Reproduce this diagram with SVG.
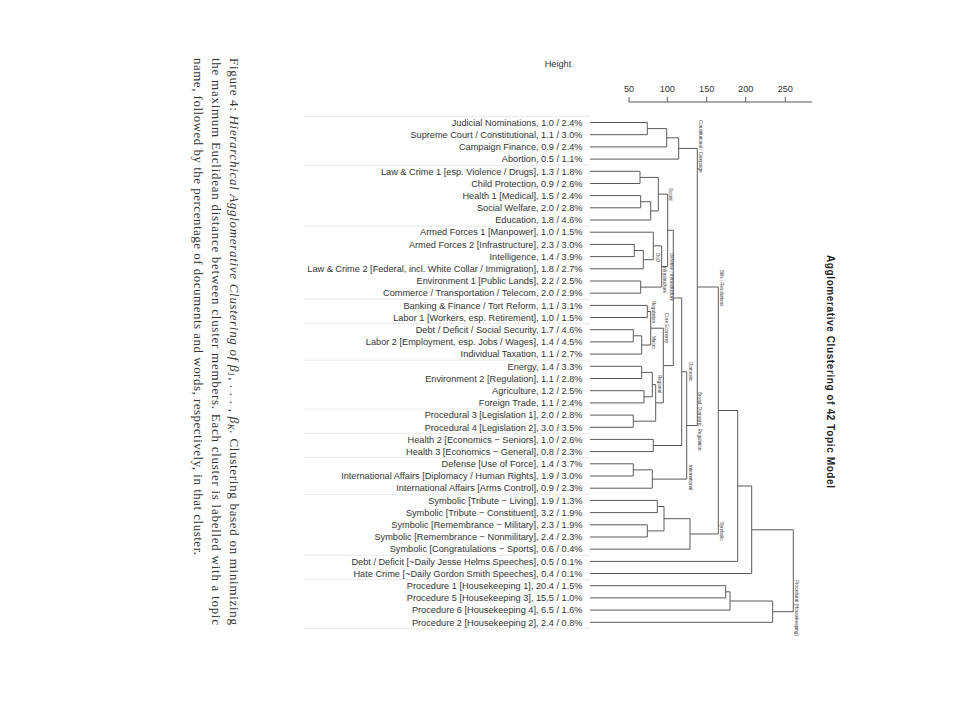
<svg xmlns="http://www.w3.org/2000/svg" width="960" height="720" viewBox="0 0 960 720">
<style>
.lbl{font-family:"Liberation Sans",Arial,sans-serif;font-size:9.2px;fill:#333;text-anchor:end}
.ax{font-family:"Liberation Sans",Arial,sans-serif;font-size:9.2px;fill:#333;text-anchor:middle}
.cl{font-family:"Liberation Sans",Arial,sans-serif;font-size:4.6px;fill:#333}
.sep{stroke:#e4e4e4;stroke-width:0.8;fill:none}
.edge{stroke:#5a5a5a;stroke-width:1;fill:none}
.cap{font-family:"Liberation Serif","Times New Roman",serif;font-size:13px;fill:#333}
</style>
<rect width="960" height="720" fill="#fff"/>

<g id="caption" class="cap">
<text transform="translate(229.5,58) rotate(90)" textLength="567" lengthAdjust="spacing">Figure 4: <tspan font-style="italic">Hierarchical Agglomerative Clustering of β<tspan font-size="9" dy="2">1</tspan><tspan dy="-2">, . . . , β</tspan><tspan font-size="9" dy="2">K</tspan><tspan dy="-2">.</tspan></tspan> Clustering based on minimizing</text>
<text transform="translate(212,58) rotate(90)" textLength="567" lengthAdjust="spacing">the maximum Euclidean distance between cluster members. Each cluster is labelled with a topic</text>
<text transform="translate(194,58) rotate(90)" textLength="497" lengthAdjust="spacing">name, followed by the percentage of documents and words, respectively, in that cluster.</text>
</g>

<g id="title">
<text transform="translate(827,255) rotate(90)" font-family="Liberation Sans,Arial,sans-serif" font-weight="bold" font-size="10" fill="#222" textLength="233" lengthAdjust="spacing">Agglomerative Clustering of 42 Topic Model</text>
</g>

<g id="axis">
<text class="ax" x="558" y="67">Height</text>
<path class="edge" d="M629 102H812M629 97V102M667.3 97V102M706.7 97V102M745.7 97V102M785.3 97V102"/>
<text class="ax" x="629" y="91.5">50</text>
<text class="ax" x="667.3" y="91.5">100</text>
<text class="ax" x="706.7" y="91.5">150</text>
<text class="ax" x="745.7" y="91.5">200</text>
<text class="ax" x="785.3" y="91.5">250</text>
</g>

<g id="separators">
<path class="sep" d="M304 116.4H590M304 165.2H590M304 226.1H590M304 299.3H590M304 323.6H590M304 360.2H590M304 409H590M304 433.4H590M304 457.7H590M304 494.3H590M304 555.3H590M304 579.6H590M304 628.4H590"/>
</g>

<g id="leaves">
<g id="n0"><text class="lbl" x="582.5" y="125.7">Judicial Nominations, 1.0 / 2.4%</text></g>
<g id="n1"><text class="lbl" x="582.5" y="137.9">Supreme Court / Constitutional, 1.1 / 3.0%</text></g>
<g id="n2"><text class="lbl" x="582.5" y="150.1">Campaign Finance, 0.9 / 2.4%</text></g>
<g id="n3"><text class="lbl" x="582.5" y="162.3">Abortion, 0.5 / 1.1%</text></g>
<g id="n4"><text class="lbl" x="582.5" y="174.5">Law &amp; Crime 1 [esp. Violence / Drugs], 1.3 / 1.8%</text></g>
<g id="n5"><text class="lbl" x="582.5" y="186.7">Child Protection, 0.9 / 2.6%</text></g>
<g id="n6"><text class="lbl" x="582.5" y="198.8">Health 1 [Medical], 1.5 / 2.4%</text></g>
<g id="n7"><text class="lbl" x="582.5" y="211">Social Welfare, 2.0 / 2.8%</text></g>
<g id="n8"><text class="lbl" x="582.5" y="223.2">Education, 1.8 / 4.6%</text></g>
<g id="n9"><text class="lbl" x="582.5" y="235.4">Armed Forces 1 [Manpower], 1.0 / 1.5%</text></g>
<g id="n10"><text class="lbl" x="582.5" y="247.6">Armed Forces 2 [Infrastructure], 2.3 / 3.0%</text></g>
<g id="n11"><text class="lbl" x="582.5" y="259.8">Intelligence, 1.4 / 3.9%</text></g>
<g id="n12"><text class="lbl" x="582.5" y="272">Law &amp; Crime 2 [Federal, incl. White Collar / Immigration], 1.8 / 2.7%</text></g>
<g id="n13"><text class="lbl" x="582.5" y="284.2">Environment 1 [Public Lands], 2.2 / 2.5%</text></g>
<g id="n14"><text class="lbl" x="582.5" y="296.4">Commerce / Transportation / Telecom, 2.0 / 2.9%</text></g>
<g id="n15"><text class="lbl" x="582.5" y="308.6">Banking &amp; Finance / Tort Reform, 1.1 / 3.1%</text></g>
<g id="n16"><text class="lbl" x="582.5" y="320.7">Labor 1 [Workers, esp. Retirement], 1.0 / 1.5%</text></g>
<g id="n17"><text class="lbl" x="582.5" y="332.9">Debt / Deficit / Social Security, 1.7 / 4.6%</text></g>
<g id="n18"><text class="lbl" x="582.5" y="345.1">Labor 2 [Employment, esp. Jobs / Wages], 1.4 / 4.5%</text></g>
<g id="n19"><text class="lbl" x="582.5" y="357.3">Individual Taxation, 1.1 / 2.7%</text></g>
<g id="n20"><text class="lbl" x="582.5" y="369.5">Energy, 1.4 / 3.3%</text></g>
<g id="n21"><text class="lbl" x="582.5" y="381.7">Environment 2 [Regulation], 1.1 / 2.8%</text></g>
<g id="n22"><text class="lbl" x="582.5" y="393.9">Agriculture, 1.2 / 2.5%</text></g>
<g id="n23"><text class="lbl" x="582.5" y="406.1">Foreign Trade, 1.1 / 2.4%</text></g>
<g id="n24"><text class="lbl" x="582.5" y="418.3">Procedural 3 [Legislation 1], 2.0 / 2.8%</text></g>
<g id="n25"><text class="lbl" x="582.5" y="430.5">Procedural 4 [Legislation 2], 3.0 / 3.5%</text></g>
<g id="n26"><text class="lbl" x="582.5" y="442.6">Health 2 [Economics − Seniors], 1.0 / 2.6%</text></g>
<g id="n27"><text class="lbl" x="582.5" y="454.8">Health 3 [Economics − General], 0.8 / 2.3%</text></g>
<g id="n28"><text class="lbl" x="582.5" y="467">Defense [Use of Force], 1.4 / 3.7%</text></g>
<g id="n29"><text class="lbl" x="582.5" y="479.2">International Affairs [Diplomacy / Human Rights], 1.9 / 3.0%</text></g>
<g id="n30"><text class="lbl" x="582.5" y="491.4">International Affairs [Arms Control], 0.9 / 2.3%</text></g>
<g id="n31"><text class="lbl" x="582.5" y="503.6">Symbolic [Tribute − Living], 1.9 / 1.3%</text></g>
<g id="n32"><text class="lbl" x="582.5" y="515.8">Symbolic [Tribute − Constituent], 3.2 / 1.9%</text></g>
<g id="n33"><text class="lbl" x="582.5" y="528">Symbolic [Remembrance − Military], 2.3 / 1.9%</text></g>
<g id="n34"><text class="lbl" x="582.5" y="540.2">Symbolic [Remembrance − Nonmilitary], 2.4 / 2.3%</text></g>
<g id="n35"><text class="lbl" x="582.5" y="552.4">Symbolic [Congratulations − Sports], 0.6 / 0.4%</text></g>
<g id="n36"><text class="lbl" x="582.5" y="564.6">Debt / Deficit [~Daily Jesse Helms Speeches], 0.5 / 0.1%</text></g>
<g id="n37"><text class="lbl" x="582.5" y="576.7">Hate Crime [~Daily Gordon Smith Speeches], 0.4 / 0.1%</text></g>
<g id="n38"><text class="lbl" x="582.5" y="588.9">Procedure 1 [Housekeeping 1], 20.4 / 1.5%</text></g>
<g id="n39"><text class="lbl" x="582.5" y="601.1">Procedure 5 [Housekeeping 3], 15.5 / 1.0%</text></g>
<g id="n40"><text class="lbl" x="582.5" y="613.3">Procedure 6 [Housekeeping 4], 6.5 / 1.6%</text></g>
<g id="n41"><text class="lbl" x="582.5" y="625.5">Procedure 2 [Housekeeping 2], 2.4 / 0.8%</text></g>
</g>

<g id="connectors" class="edge">
<path d="M590 122.5H647.3V134.7H590"/>
<path d="M647.3 128.6H666.7V146.9H590"/>
<path d="M666.7 137.8H678.7V159.1H590"/>
<path d="M590 171.3H640V183.5H590"/>
<path d="M590 195.6H640.7V207.8H590"/>
<path d="M640.7 201.7H650.7V220H590"/>
<path d="M640 177.4H658.3V210.9H650.7"/>
<path d="M590 244.4H634.3V256.6H590"/>
<path d="M634.3 250.5H643.3V268.8H590"/>
<path d="M590 232.2H653.3V259.7H643.3"/>
<path d="M590 281H640.7V293.2H590"/>
<path d="M653.3 245.9H661.7V287.1H640.7"/>
<path d="M658.3 194.1H667.7V266.5H661.7"/>
<path d="M590 305.4H647.3V317.5H590"/>
<path d="M590 329.7H633.3V341.9H590"/>
<path d="M633.3 335.8H641.7V354.1H590"/>
<path d="M647.3 311.5H650.7V345H641.7"/>
<path d="M590 366.3H641.7V378.5H590"/>
<path d="M590 390.7H644V402.9H590"/>
<path d="M641.7 372.4H652.3V396.8H644"/>
<path d="M590 415.1H633.3V427.3H590"/>
<path d="M652.3 384.6H655.7V421.2H633.3"/>
<path d="M650.7 328.2H663.3V402.9H655.7"/>
<path d="M667.7 230.3H673.3V365.6H663.3"/>
<path d="M590 439.4H653.3V451.6H590"/>
<path d="M673.3 298H681.7V445.5H653.3"/>
<path d="M590 463.8H633.3V476H590"/>
<path d="M633.3 469.9H652.3V488.2H590"/>
<path d="M681.7 371.8H686.7V479.1H652.3"/>
<path d="M678.7 148.4H697.3V425.5H686.7"/>
<path d="M590 500.4H657.3V512.6H590"/>
<path d="M590 524.8H647.3V537H590"/>
<path d="M657.3 506.5H664V530.9H647.3"/>
<path d="M664 518.7H690V549.2H590"/>
<path d="M697.3 287H718.3V534H690"/>
<path d="M718.3 410.5H737.7V561.4H590"/>
<path d="M737.7 486H751.7V573.5H590"/>
<path d="M590 585.7H725.7V597.9H590"/>
<path d="M725.7 591.8H730V610.1H590"/>
<path d="M730 601H772.7V622.3H590"/>
<path d="M751.7 529.8H793.3V611.7H772.7"/>
</g>

<g id="cluster-labels" class="cl">
<g id="c-constitutional"><text transform="translate(699.3,120) rotate(90)">Constitutional / Campaign</text></g>
<g id="c-social"><text transform="translate(669,188) rotate(90)">Social</text></g>
<g id="c-dod"><text transform="translate(656.3,253) rotate(90)">DoD</text></g>
<g id="c-definfra"><text transform="translate(669.5,253) rotate(90)">Defense / Infrastructure</text></g>
<g id="c-infrastructure"><text transform="translate(663,266) rotate(90)">Infrastructure</text></g>
<g id="c-regulation"><text transform="translate(652,301) rotate(90)">Regulation</text></g>
<g id="c-core"><text transform="translate(665.3,313) rotate(90)">Core Economy</text></g>
<g id="c-macro"><text transform="translate(652,336) rotate(90)">Macro</text></g>
<g id="c-regional"><text transform="translate(657.7,375) rotate(90)">Regional</text></g>
<g id="c-domestic"><text transform="translate(689.3,362) rotate(90)">Domestic</text></g>
<g id="c-broad"><text transform="translate(698.3,392) rotate(90)">Broad, Domestic, Regulation</text></g>
<g id="c-international"><text transform="translate(688.7,465) rotate(90)">International</text></g>
<g id="c-bills"><text transform="translate(720.3,270) rotate(90)">Bills / Resolutions</text></g>
<g id="c-symbolic"><text transform="translate(720,522) rotate(90)">Symbolic</text></g>
<g id="c-procedural"><text transform="translate(794.7,580) rotate(90)">Procedural (Housekeeping)</text></g>
</g>
</svg>
